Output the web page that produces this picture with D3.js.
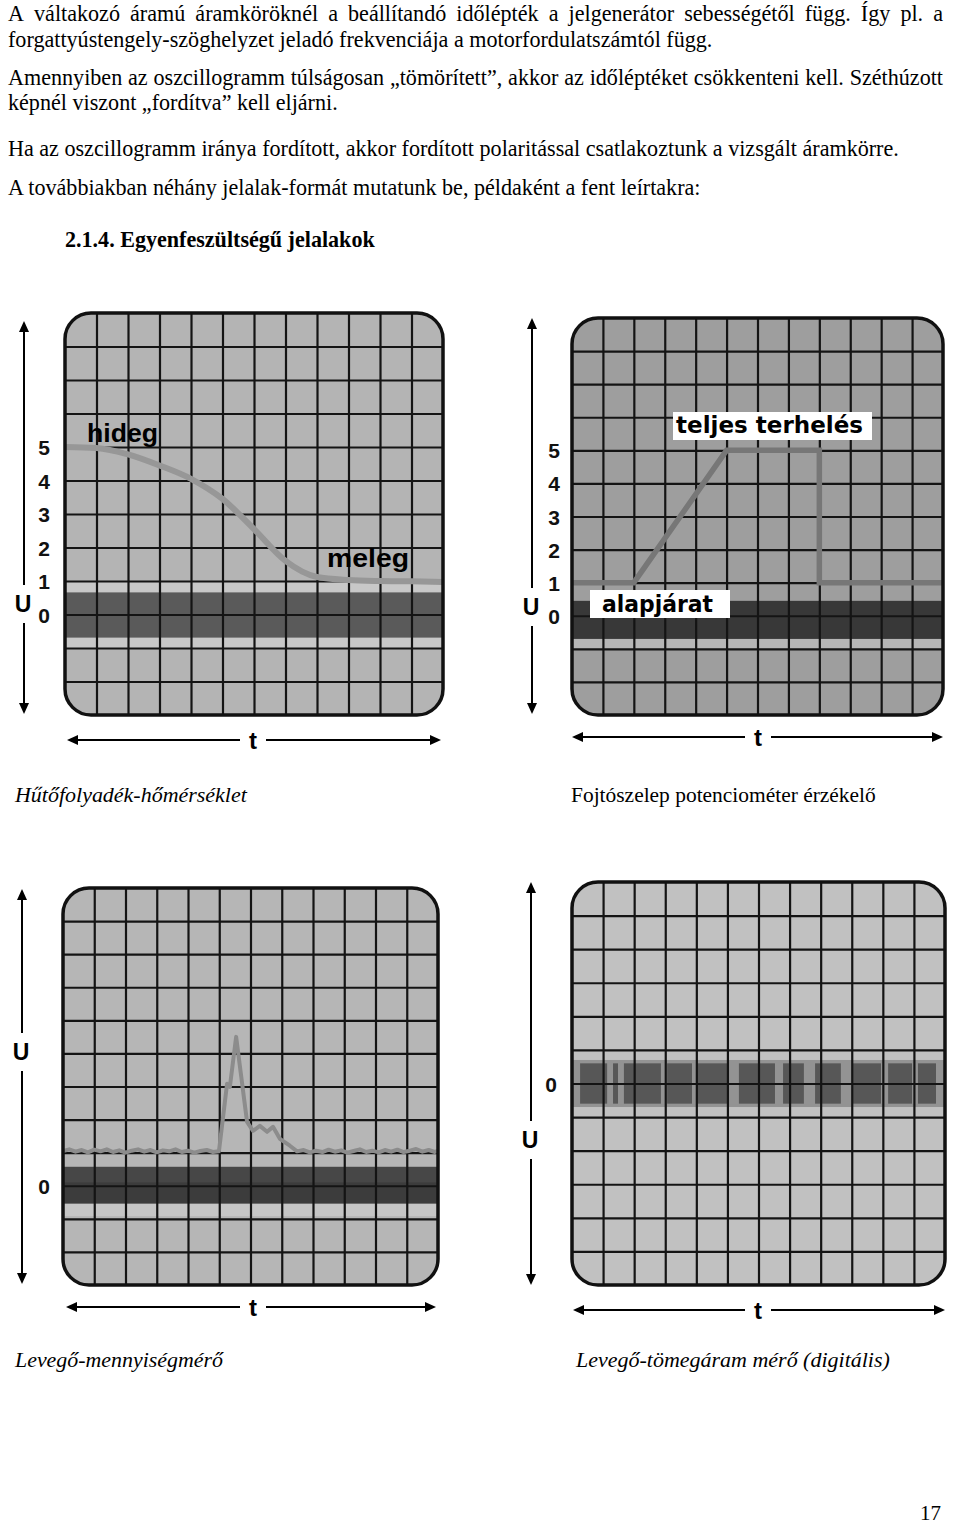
<!DOCTYPE html>
<html><head><meta charset="utf-8">
<script src="https://cdn.jsdelivr.net/npm/d3@7/dist/d3.min.js"></script>
<style>body{margin:0;background:#fff}svg{display:block}</style>
</head><body><svg id="c" width="960" height="1524"></svg>
<script>
// ---------- DATA ----------
const paragraphLines = [
  "A váltakozó áramú áramköröknél a beállítandó időlépték a jelgenerátor sebességétől függ. Így pl. a",
  "forgattyústengely-szöghelyzet jeladó frekvenciája a motorfordulatszámtól függ.",
  "Amennyiben az oszcillogramm túlságosan „tömörített”, akkor az időléptéket csökkenteni kell. Széthúzott",
  "képnél viszont „fordítva” kell eljárni.",
  "Ha az oszcillogramm iránya fordított, akkor fordított polaritással csatlakoztunk a vizsgált áramkörre.",
  "A továbbiakban néhány jelalak-formát mutatunk be, példaként a fent leírtakra:"
];
const heading = "2.1.4. Egyenfeszültségű jelalakok";
const captions = ["Hűtőfolyadék-hőmérséklet", "Fojtószelep potenciométer érzékelő",
                  "Levegő-mennyiségmérő", "Levegő-tömegáram mérő (digitális)"];
const pageNumber = "17";

// Panel 1: coolant temperature sensor (grid units)
const coolantT = [0, 1, 2, 3, 4, 5, 6, 7, 8, 9, 10, 11, 12];
const coolantU = [5.0, 4.97, 4.78, 4.45, 4.05, 3.45, 2.55, 1.6, 1.12, 1.03, 1.0, 0.99, 0.97];
const coolantLabels = ["hideg", "meleg"];
const coolantTicks = [0, 1, 2, 3, 4, 5];

// Panel 2: throttle potentiometer
const throttleT = [0, 2, 5, 8, 8, 12];
const throttleU = [1, 1, 5, 5, 1, 1];
const throttleLabels = ["teljes terhelés", "alapjárat"];
const throttleTicks = [0, 1, 2, 3, 4, 5];

// Panel 3: air flow meter (noisy baseline with a spike)
const airflowT = [0, 0.2, 0.4, 0.6, 0.8, 1.0, 1.2, 1.4, 1.6, 1.8, 2.0, 2.2, 2.4, 2.6, 2.8, 3.0, 3.2, 3.4, 3.6, 3.8, 4.0, 4.2, 4.4, 4.6, 4.8, 4.99,
  5.25, 5.34, 5.54, 5.89, 6.08, 6.3, 6.53, 6.72, 6.94, 7.26, 7.49,
  7.7, 7.9, 8.1, 8.3, 8.5, 8.7, 8.9, 9.1, 9.3, 9.5, 9.7, 9.9, 10.1, 10.3, 10.5, 10.7, 10.9, 11.1, 11.3, 11.5, 11.7, 11.9, 12.0];
const airflowU = [1.05, 1.1, 1.03, 1.08, 1.01, 1.09, 1.04, 1.1, 1.02, 1.07, 1.0, 1.06, 1.1, 1.03, 1.08, 1.01, 1.07, 1.04, 1.1, 1.02, 1.06, 1.0, 1.05, 1.08, 1.02, 1.04,
  3.08, 2.99, 4.5, 1.93, 1.66, 1.81, 1.63, 1.78, 1.42, 1.21, 1.04,
  1.08, 1.01, 1.06, 1.02, 1.09, 1.03, 1.07, 1.0, 1.05, 1.1, 1.02, 1.06, 1.01, 1.08, 1.03, 1.09, 1.02, 1.06, 1.11, 1.03, 1.08, 1.02, 1.06];
const airflowTicks = [0];

// Panel 4: digital mass air flow sensor (pulse blocks, grid units)
const mafStart = [0.26, 1.32, 1.67, 3.06, 4.02, 5.37, 6.79, 7.82, 9.04, 10.17, 11.13];
const mafEnd   = [1.13, 1.48, 2.86, 3.86, 5.02, 6.53, 7.46, 8.65, 9.94, 10.94, 11.71];
const mafTicks = [0];

// ---------- DRAWING ----------
const svg = d3.select("#c");
const serif = "Liberation Serif, Times New Roman, serif";
const sans = "Liberation Sans, Arial, sans-serif";

function measure(str, size, weight, style) {
  const t = svg.append("text").style("font-family", serif).style("font-size", size + "px")
    .style("font-weight", weight || "normal").style("font-style", style || "normal").text(str);
  const w = t.node().getComputedTextLength(); t.remove(); return w;
}
function fitSize(str, target, weight, style) { return 20 * target / measure(str, 20, weight, style); }

// paragraph text: [x, baseline, right edge, justified]
const paraLayout = [[8, 21, 943, true], [8, 47, 712, false], [8, 85, 943, true], [8, 110, 342, false], [8, 156, 891, false], [8, 195, 699, false]];
const pSize = d3.mean([1, 3, 4, 5].map(i => fitSize(paragraphLines[i], paraLayout[i][2] - paraLayout[i][0])));
paragraphLines.forEach((line, i) => {
  const [x0, yb, x1, just] = paraLayout[i];
  const t = svg.append("text").attr("y", yb).style("font-family", serif).style("font-size", pSize + "px").attr("fill", "#000");
  if (just) {
    const words = line.split(" ");
    const ws = words.map(w => measure(w, pSize));
    const gap = (x1 - x0 - d3.sum(ws)) / (words.length - 1);
    let cx = x0;
    words.forEach((w, k) => { t.append("tspan").attr("x", cx).text(w); cx += ws[k] + gap; });
  } else {
    t.attr("x", x0).text(line);
  }
});
svg.append("text").attr("x", 65).attr("y", 247)
  .style("font-family", serif).style("font-size", fitSize(heading, 310, "bold") + "px").style("font-weight", "bold").text(heading);

const capLayout = [[15, 802, 232, true], [571, 802, 305, false], [15, 1367, 208, true], [576, 1367, 314, true]];
captions.forEach((c, i) => {
  const [cx, cy, cw, it] = capLayout[i];
  svg.append("text").attr("x", cx).attr("y", cy)
    .style("font-family", serif).style("font-style", it ? "italic" : "normal")
    .style("font-size", fitSize(c, cw, "normal", it ? "italic" : "normal") + "px").text(c);
});
svg.append("text").attr("x", 920).attr("y", 1520).style("font-family", serif).style("font-size", "21px").text(pageNumber);

function arrowHead(g, x, y, dir) {
  const L = 11, Wd = 5;
  let p;
  if (dir === "up") p = [[x, y], [x - Wd, y + L], [x + Wd, y + L]];
  if (dir === "down") p = [[x, y], [x - Wd, y - L], [x + Wd, y - L]];
  if (dir === "left") p = [[x, y], [x + L, y - Wd], [x + L, y + Wd]];
  if (dir === "right") p = [[x, y], [x - L, y - Wd], [x - L, y + Wd]];
  g.append("path").attr("d", d3.line()(p) + "Z").attr("fill", "#000");
}

function panel(cfg, id) {
  const g = svg.append("g");
  const x = d3.scaleLinear().domain([0, 12]).range([cfg.x0, cfg.x1]);
  const y = d3.scaleLinear().domain(cfg.yDom).range([cfg.y1, cfg.y0]);
  const w = cfg.x1 - cfg.x0, h = cfg.y1 - cfg.y0;
  g.append("clipPath").attr("id", "clip" + id).append("rect")
    .attr("x", cfg.x0).attr("y", cfg.y0).attr("width", w).attr("height", h).attr("rx", 26);
  g.append("rect").attr("x", cfg.x0).attr("y", cfg.y0).attr("width", w).attr("height", h).attr("rx", 26)
    .attr("fill", cfg.bg);
  const inner = g.append("g").attr("clip-path", `url(#clip${id})`);
  cfg.bands.forEach(b => {
    inner.append("rect").attr("x", cfg.x0).attr("width", w)
      .attr("y", y(b[1])).attr("height", y(b[0]) - y(b[1])).attr("fill", b[2]);
  });
  if (cfg.before) cfg.before(inner, x, y);
  const yTicks = d3.range(Math.ceil(cfg.yDom[0]) + 1, cfg.yDom[1]);
  inner.append("g").attr("transform", `translate(0,${cfg.y1})`)
    .call(d3.axisBottom(x).tickValues(d3.range(1, 12)).tickSize(-h).tickFormat(""))
    .call(s => s.select(".domain").remove())
    .call(s => s.selectAll("line").attr("stroke", "#141414").attr("stroke-width", 2.2));
  inner.append("g").attr("transform", `translate(${cfg.x0},0)`)
    .call(d3.axisLeft(y).tickValues(yTicks).tickSize(-w).tickFormat(""))
    .call(s => s.select(".domain").remove())
    .call(s => s.selectAll("line").attr("stroke", "#141414").attr("stroke-width", 2.2));
  if (cfg.after) cfg.after(inner, x, y);
  g.append("rect").attr("x", cfg.x0).attr("y", cfg.y0).attr("width", w).attr("height", h).attr("rx", 26)
    .attr("fill", "none").attr("stroke", "#111").attr("stroke-width", 3.5);
  g.append("g").attr("transform", `translate(${cfg.tickX},0)`)
    .call(d3.axisLeft(y).tickValues(cfg.ticks).tickSize(0).tickPadding(0).tickFormat(d3.format("d")))
    .call(s => s.select(".domain").remove())
    .call(s => s.selectAll("text").attr("text-anchor", "middle").attr("dy", "0.36em")
      .style("font-family", sans).style("font-size", "21px").style("font-weight", "bold").attr("fill", "#111"));
  const ax = cfg.ax;
  g.append("line").attr("x1", ax).attr("x2", ax).attr("y1", cfg.ay0 + 4).attr("y2", cfg.uy - 19).attr("stroke", "#000").attr("stroke-width", 2);
  g.append("line").attr("x1", ax).attr("x2", ax).attr("y1", cfg.uy + 19).attr("y2", cfg.ay1 - 4).attr("stroke", "#000").attr("stroke-width", 2);
  arrowHead(g, ax, cfg.ay0, "up"); arrowHead(g, ax, cfg.ay1, "down");
  g.append("text").attr("x", ax - 1).attr("y", cfg.uy).attr("dy", "0.36em").attr("text-anchor", "middle")
    .style("font-family", sans).style("font-size", "23px").style("font-weight", "bold").text("U");
  const hy = cfg.hy;
  g.append("line").attr("x1", cfg.hx0 + 4).attr("x2", cfg.tx - 13).attr("y1", hy).attr("y2", hy).attr("stroke", "#000").attr("stroke-width", 2);
  g.append("line").attr("x1", cfg.tx + 13).attr("x2", cfg.hx1 - 4).attr("y1", hy).attr("y2", hy).attr("stroke", "#000").attr("stroke-width", 2);
  arrowHead(g, cfg.hx0, hy, "left"); arrowHead(g, cfg.hx1, hy, "right");
  g.append("text").attr("x", cfg.tx).attr("y", hy).attr("dy", "0.36em").attr("text-anchor", "middle")
    .style("font-family", sans).style("font-size", "24px").style("font-weight", "bold").text("t");
  if (cfg.labels) cfg.labels(g, x, y);
}

// Panel 1
panel({
  x0: 65, x1: 443, y0: 313, y1: 715, yDom: [-3, 9], bg: "#b4b4b4",
  bands: [[-1, 1, "#c8c8c8"], [-0.69, 0.66, "#5a5a5a"]],
  ticks: coolantTicks, tickX: 44, ax: 24, ay0: 321, ay1: 714, uy: 604,
  hy: 740, hx0: 67, hx1: 441, tx: 253,
  after: (g, x, y) => {
    g.append("path").datum(coolantT.map((t, i) => [t, coolantU[i]]))
      .attr("d", d3.line().x(d => x(d[0])).y(d => y(d[1])).curve(d3.curveMonotoneX))
      .attr("fill", "none").attr("stroke", "#979797").attr("stroke-width", 6);
  },
  labels: (g, x, y) => {
    g.append("text").attr("x", 87).attr("y", 442).attr("textLength", 71).attr("lengthAdjust", "spacingAndGlyphs")
      .style("font-family", sans).style("font-size", "26px").style("font-weight", "bold").text(coolantLabels[0]);
    g.append("text").attr("x", 327).attr("y", 567).attr("textLength", 82).attr("lengthAdjust", "spacingAndGlyphs")
      .style("font-family", sans).style("font-size", "26px").style("font-weight", "bold").text(coolantLabels[1]);
  }
}, 1);

// Panel 2
panel({
  x0: 572, x1: 943, y0: 318, y1: 715, yDom: [-3, 9], bg: "#9e9e9e",
  bands: [[-1, -0.69, "#b6b6b6"], [-0.7, 0.45, "#383838"]],
  ticks: throttleTicks, tickX: 554, ax: 532, ay0: 318, ay1: 714, uy: 607,
  hy: 737, hx0: 572, hx1: 943, tx: 758,
  after: (g, x, y) => {
    g.append("path").datum(throttleT.map((t, i) => [t, throttleU[i]]))
      .attr("d", d3.line().x(d => x(d[0])).y(d => y(d[1])))
      .attr("fill", "none").attr("stroke", "#777").attr("stroke-width", 5.5);
  },
  labels: (g, x, y) => {
    g.append("rect").attr("x", 673).attr("y", 412).attr("width", 199).attr("height", 28).attr("fill", "#fff");
    g.append("text").attr("x", 676).attr("y", 433).attr("textLength", 187).attr("lengthAdjust", "spacingAndGlyphs")
      .style("font-family", "DejaVu Sans, sans-serif").style("font-size", "23px").style("font-weight", "bold").text(throttleLabels[0]);
    g.append("rect").attr("x", 590).attr("y", 590).attr("width", 140).attr("height", 28).attr("fill", "#fff");
    g.append("text").attr("x", 602).attr("y", 612).attr("textLength", 111).attr("lengthAdjust", "spacingAndGlyphs")
      .style("font-family", "DejaVu Sans, sans-serif").style("font-size", "23px").style("font-weight", "bold").text(throttleLabels[1]);
  }
}, 2);

// Panel 3
panel({
  x0: 63, x1: 438, y0: 888, y1: 1285, yDom: [-3, 9], bg: "#b6b6b6",
  bands: [[-0.92, -0.54, "#c6c6c6"], [-0.54, 0.57, "#3c3c3c"], [0.1, 0.57, "#474747"]],
  ticks: airflowTicks, tickX: 44, ax: 22, ay0: 889, ay1: 1284, uy: 1052,
  hy: 1307, hx0: 66, hx1: 436, tx: 253,
  after: (g, x, y) => {
    g.append("path").datum(airflowT.map((t, i) => [t, airflowU[i]]))
      .attr("d", d3.line().x(d => x(d[0])).y(d => y(d[1])))
      .attr("fill", "none").attr("stroke", "#8c8c8c").attr("stroke-width", 4).attr("stroke-linejoin", "round");
  }
}, 3);

// Panel 4
panel({
  x0: 572, x1: 945, y0: 882, y1: 1285, yDom: [-6, 6], bg: "#c1c1c1",
  bands: [[-0.7, 0.7, "#939393"]],
  ticks: mafTicks, tickX: 551, ax: 531, ay0: 882, ay1: 1285, uy: 1140,
  hy: 1310, hx0: 573, hx1: 945, tx: 758,
  before: (g, x, y) => {
    g.selectAll("rect.pulse").data(mafStart).join("rect").attr("class", "pulse")
      .attr("x", d => x(d)).attr("width", (d, i) => x(mafEnd[i]) - x(d))
      .attr("y", y(0.6)).attr("height", y(-0.6) - y(0.6))
      .attr("fill", "#575757");
  }
}, 4);
</script></body></html>
